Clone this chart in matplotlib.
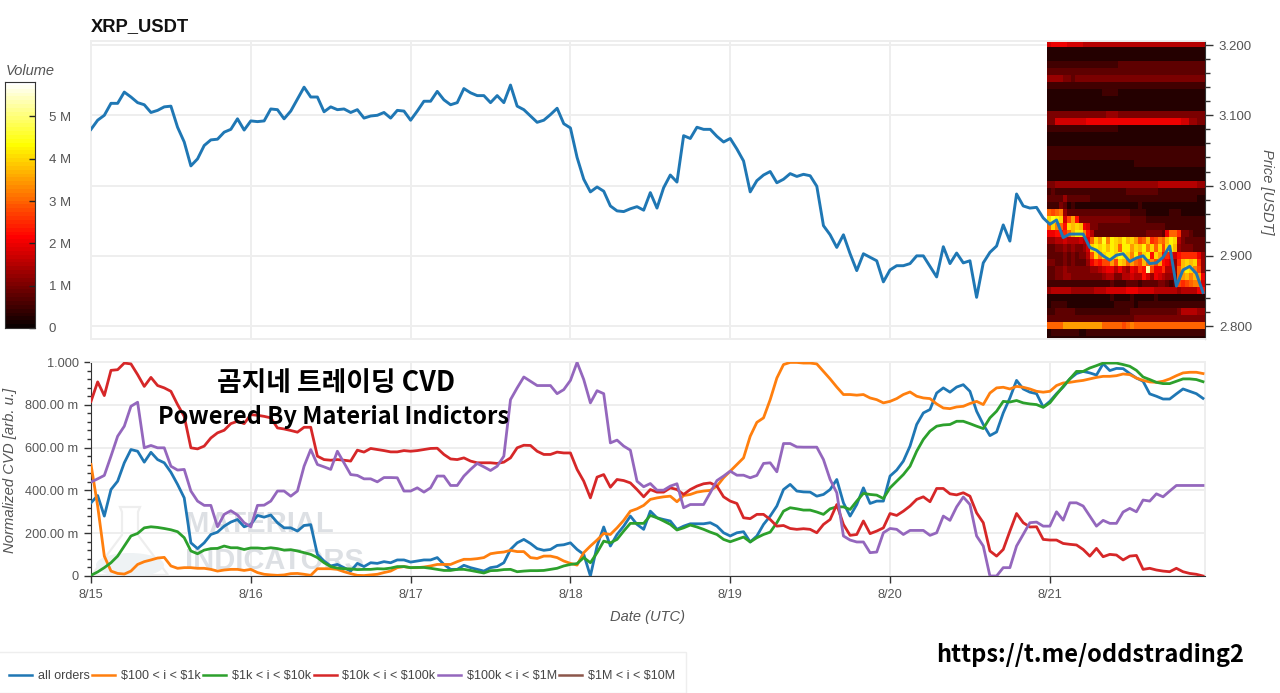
import numpy as np
import matplotlib
matplotlib.use("Agg")
import matplotlib.pyplot as plt
from matplotlib.lines import Line2D
from matplotlib.patches import Polygon, Ellipse, Rectangle
from matplotlib.ticker import FixedLocator, FixedFormatter

plt.rcParams['font.family'] = ['Liberation Sans', 'DejaVu Sans']
plt.rcParams['text.parse_math'] = False

# hourly values, price in USDT/1000
price = [3080,3093,3100,3117,3117,3133,3126,3118,3115,3104,3107,3112,3113,3083,3062,3028,3038,3057,3065,3066,3076,3080,3095,3079,
         3092,3091,3092,3109,3108,3095,3106,3123,3140,3126,3126,3105,3112,3108,3109,3104,3108,3096,3099,3100,3104,3096,3107,3106,
         3093,3106,3120,3120,3134,3122,3115,3118,3138,3132,3128,3128,3118,3128,3118,3143,3113,3108,3099,3090,3093,3101,3110,3088,
         3082,3040,3009,2991,2998,2992,2971,2964,2963,2967,2970,2965,2990,2968,2997,3015,3005,3071,3067,3083,3080,3080,3070,3062,
         3067,3052,3035,2991,3007,3015,3020,3004,3009,3017,3013,3016,3014,2999,2943,2930,2912,2930,2903,2879,2903,2898,2893,2863,
         2880,2886,2886,2889,2900,2900,2885,2870,2913,2889,2904,2890,2893,2841,2890,2905,2914,2944,2921,2988,2971,2968,2969,2954,
         2945,2951,2926,2931,2931,2931,2912,2908,2900,2894,2901,2903,2892,2897,2900,2889,2890,2898,2914,2857,2880,2885,2875,2848]

# normalized CVD in milli units
all_orders = [342,376,280,404,443,529,591,583,532,578,544,529,485,428,365,155,128,155,194,205,233,252,264,230,
              241,283,275,285,249,225,225,210,236,240,101,70,47,54,39,23,59,44,62,59,67,62,75,75,
              65,70,75,75,86,54,31,31,50,39,31,23,39,44,62,124,155,171,152,128,120,124,143,146,
              155,124,101,0,140,229,140,194,233,280,241,218,303,272,264,257,218,233,244,244,244,249,233,202,
              187,202,207,159,187,241,280,327,404,428,397,393,392,373,381,404,451,342,280,334,412,339,350,350,
              467,495,537,607,708,762,778,855,879,859,883,894,863,770,708,656,673,762,832,914,874,859,852,790,
              816,852,883,921,946,956,949,939,992,960,970,969,946,925,910,851,840,827,827,851,874,863,852,830]
orders_100_1k = [521,327,93,23,12,9,23,54,67,75,84,87,47,36,39,39,36,36,31,23,28,31,31,26,
                 31,16,8,5,3,5,11,12,8,3,34,34,34,31,20,11,3,2,5,8,16,23,39,44,
                 39,39,42,47,54,54,54,67,78,78,81,86,104,109,112,120,114,114,86,82,93,93,86,70,
                 59,51,109,140,168,199,194,225,260,303,314,330,358,365,370,373,347,376,381,392,397,400,420,459,
                 490,521,552,653,718,739,824,925,988,998,998,995,995,991,956,921,883,848,848,845,848,832,824,809,
                 816,829,848,860,840,832,829,804,785,782,790,793,806,816,801,855,879,882,874,886,882,874,863,859,
                 863,890,902,905,910,914,921,928,933,933,936,944,941,925,914,907,905,910,921,936,949,952,952,946]
orders_1k_10k = [3,19,39,62,93,140,187,199,225,230,227,222,216,207,179,117,104,121,128,129,140,132,132,124,
                 131,131,128,132,128,121,123,117,109,101,86,62,44,37,34,33,30,31,31,34,33,37,44,44,
                 39,40,40,36,31,26,26,31,31,26,20,14,25,26,30,31,20,23,25,25,26,31,36,47,
                 54,58,86,62,109,163,155,171,210,246,246,246,283,272,257,241,215,225,238,229,218,205,194,171,
                 160,171,182,159,179,194,205,249,303,319,314,308,308,299,288,314,323,323,311,350,386,381,378,362,
                 412,443,474,513,583,638,677,700,706,708,723,723,712,700,689,739,770,816,813,820,809,804,801,788,
                 809,848,886,921,956,956,972,983,995,995,995,988,980,961,930,918,905,899,899,910,921,921,918,908]
orders_10k_100k = [816,907,843,961,964,995,991,941,886,928,890,879,863,801,746,599,594,607,645,669,681,712,723,712,
                   754,751,746,739,692,687,680,672,695,695,560,544,541,544,541,537,588,579,596,591,586,580,580,586,
                   583,586,591,596,597,568,547,544,552,537,529,529,529,526,532,552,599,611,610,583,568,568,579,575,
                   575,498,443,365,462,474,415,451,446,435,404,370,404,392,392,412,404,381,404,420,431,435,420,370,
                   350,339,272,268,288,288,264,233,236,222,218,221,218,202,241,264,334,241,190,194,257,198,210,225,
                   292,283,303,327,358,370,347,409,409,384,379,389,373,295,249,117,93,124,210,292,249,229,230,171,
                   168,168,152,148,145,124,93,129,90,101,98,75,93,96,31,36,28,23,20,36,20,12,8,0]
orders_100k_1m = [439,454,470,560,653,700,793,812,599,610,599,599,513,495,498,397,350,330,330,230,288,305,285,249,
                  230,330,331,350,397,397,373,397,513,591,521,510,498,583,529,474,470,454,454,440,460,460,459,397,
                  397,412,392,412,467,467,423,423,467,498,526,510,493,513,560,824,879,930,910,890,890,890,852,871,
                  914,998,918,809,866,852,622,635,607,588,443,417,432,401,401,420,431,319,334,334,334,389,446,467,
                  490,471,471,459,470,526,529,487,619,619,603,602,602,602,544,451,389,187,168,159,159,109,112,202,
                  222,218,194,213,213,213,190,202,280,260,323,369,334,187,140,0,0,39,39,140,194,249,252,233,
                  233,300,261,342,342,327,280,233,260,246,246,299,316,300,355,350,384,370,397,423,423,423,423,423]
orders_1m_10m = []

series_labels = ["all orders", "$100 < i < $1k", "$1k < i < $10k", "$10k < i < $100k", "$100k < i < $1M", "$1M < i < $10M"]
series_colors = ["#1f77b4", "#ff7f0e", "#2ca02c", "#d62728", "#9467bd", "#8c564b"]

day_labels = ["8/15", "8/16", "8/17", "8/18", "8/19", "8/20", "8/21"]
cvd_ticks = [0, 0.2, 0.4, 0.6, 0.8, 1.0]
cvd_tick_labels = ["0", "200.00 m", "400.00 m", "600.00 m", "800.00 m", "1.000"]
price_ticks = [2.8, 2.9, 3.0, 3.1, 3.2]
volume_ticks = [0, 1, 2, 3, 4, 5]
volume_tick_labels = ["0", "1 M", "2 M", "3 M", "4 M", "5 M"]

# volume profile, one row per price level, top row first. one char = 0.25 M (base 36)
heat_rows = [
    "7888877776 6666666666 6666666666 6666666666",
    "1111111111 1111111111 1111111111 1111111111",
    "1111111111 1111111111 1111111111 1111111111",
    "2222222222 2222222233 3333333333 3333333333",
    "3333333333 3333333333 3333333333 3333333333",
    "5555443444 4444444444 4444444444 4444444444",
    "2222222222 2222222222 2222222222 2222222222",
    "1111111111 1111222211 1111111111 1111111111",
    "1111111111 1111111111 1111111111 1111111111",
    "1111111111 1111111111 1111111111 1111111111",
    "4444444444 4444455544 4444444444 4444444444",
    "4477777777 8888888888 8888888888 8888775544",
    "2222222222 2222222211 1111111111 1111111111",
    "1111111111 1111111111 1111111111 1111111111",
    "1111111111 1111111111 1111111111 1111111111",
    "2222222222 2222222222 2222222222 2222222222",
    "2222222222 2222222222 2222222222 2222222222",
    "1111111111 1111111111 1122222222 2222222222",
    "1111111111 1111111111 1111111111 1111111111",
    "1111111111 1111111111 1111111111 1111111111",
    "4455555555 5555555555 5555555566 6666666655",
    "2322222222 2222222222 3333333322 2222222222",
    "3333533333 3222222222 2222222222 2222222211",
    "2224312111 1111111111 1112111111 1111111111",
    "cbcd533333 3333333333 3222211111 1222111111",
    "gihg7be944 4444444444 4333322222 2222222222",
    "cgdc9gfgf8 7443333333 3333333333 2222222222",
    "8899acfhhd 9633333333 3333344443 8cca443222",
    "5566766676 8cgeidhgfh fgebcfabdc fhg6433333",
    "3344545445 7ghghfhgch hegfhdgcgb ghf5444333",
    "3333434344 6bgdghhgih gdhcgh9ge9 a979aaaa85",
    "4433434333 58a9bbebgf cecbfcdbe9 875afgfga5",
    "3344544444 4556788686 587a9lb88a 665cfhgdb5",
    "3344554444 4444566446 6766975876 554cefdfe8",
    "2222222222 2222223222 3332333344 323babcdd7",
    "5666665555 5566677777 8887777666 6665666689",
    "1111111111 1111112111 1211111211 1111111111",
    "1222211111 1111111222 2212222222 2222222222",
    "2233333222 2222222222 2333333333 3334666655",
    "3333333333 3333333333 3344444444 4444444444",
    "cccceeeeee eeeecccccb cdcccccccc cccccccccc",
    "1222222211 2222222222 2222222222 2222222222",
    "1111111111 1111111111 1111111111 1111111111",
]

W, H = 1280, 693
GRAY = "#555555"
GRID = "#eeeeee"


def px_axes(fig, x0, y0, x1, y1):
    return fig.add_axes([x0 / W, 1 - y1 / H, (x1 - x0) / W, (y1 - y0) / H])


fig = plt.figure(figsize=(W / 100, H / 100), dpi=100)
hours = np.arange(len(price))
day_pos = np.arange(len(day_labels)) * 24
x_end = 167.3

# top panel
ax1 = px_axes(fig, 91, 41, 1205, 339.5)
heat = np.array([[int(c, 36) * 0.25 for c in row.replace(" ", "")] for row in heat_rows])
ax1.imshow(heat, cmap="hot", vmin=0, vmax=5.82, aspect="auto", interpolation="nearest",
           extent=[143.6, x_end, 2.775, 3.205], zorder=2)
ax1.plot(hours, np.array(price) / 1000, color=series_colors[0], lw=2.1, zorder=3, solid_joinstyle="round")
ax1.set_xlim(0, x_end)
ax1.set_ylim(2.781, 3.2057)
ax1.set_xticks(day_pos)
ax1.tick_params(axis="x", length=0, labelbottom=False)
ax1.yaxis.tick_right()
ax1.yaxis.set_label_position("right")
ax1.set_yticks(price_ticks)
ax1.set_yticklabels(["%.3f" % p for p in price_ticks])
ax1.yaxis.set_minor_locator(FixedLocator(np.arange(2.78, 3.2, 0.02)))
ax1.tick_params(axis="y", which="major", length=6, width=1, color="#333333", labelcolor=GRAY, labelsize=9.5, pad=4)
ax1.tick_params(axis="y", which="minor", length=3.5, width=1, color="#333333")
ax1.grid(True, color=GRID, lw=1.4, zorder=0)
ax1.set_axisbelow(True)
for s in ["top", "left", "bottom"]:
    ax1.spines[s].set_color(GRID)
    ax1.spines[s].set_linewidth(1.4)
ax1.spines["right"].set_color("#333333")
fig.text(1267 / W, 1 - 192 / H, "Price [USDT]", rotation=270, style="italic", color=GRAY,
         fontsize=10.5, ha="center", va="center")
fig.text(91 / W, 1 - 26.5 / H, "XRP_USDT", fontweight="bold", fontsize=13.2, color="#111111", ha="left", va="center")

# colour bar
cax = px_axes(fig, 5, 81.7, 35, 328)
cax.imshow(np.linspace(5.82, 0, 64).reshape(-1, 1), cmap="hot", vmin=0, vmax=5.82, aspect="auto",
           extent=[0, 1, 0, 5.82])
cax.set_xticks([])
cax.yaxis.tick_right()
cax.set_yticks(volume_ticks)
cax.set_yticklabels(volume_tick_labels, ha="left")
cax.tick_params(axis="y", direction="in", length=4, width=1, color="#222222", labelcolor=GRAY, labelsize=9.5, pad=10)
for s in cax.spines.values():
    s.set_color("#333333")
fig.text(6 / W, 1 - 71 / H, "Volume", style="italic", color=GRAY, fontsize=10.5, ha="left", va="center")

# bottom panel
ax2 = px_axes(fig, 91, 362, 1205, 576)
all_series = [all_orders, orders_100_1k, orders_1k_10k, orders_10k_100k, orders_100k_1m, orders_1m_10m]
for vals, label, col in zip(all_series, series_labels, series_colors):
    ax2.plot(hours[:len(vals)], np.array(vals, dtype=float) / 1000, color=col, lw=2.0, label=label,
             zorder=3, solid_joinstyle="round")
ax2.set_xlim(0, x_end)
ax2.set_ylim(0, 1.0)
ax2.set_xticks(day_pos)
ax2.set_xticklabels(day_labels)
ax2.yaxis.set_major_locator(FixedLocator(cvd_ticks))
ax2.yaxis.set_major_formatter(FixedFormatter(cvd_tick_labels))
ax2.yaxis.set_minor_locator(FixedLocator(np.arange(0, 1.0, 0.04)))
ax2.tick_params(axis="both", which="major", length=5, width=1, color="#333333", labelcolor=GRAY)
ax2.tick_params(axis="x", which="major", pad=4, labelsize=9.2)
ax2.tick_params(axis="y", which="major", pad=4, labelsize=9.2)
ax2.tick_params(axis="y", which="minor", length=3, width=1, color="#333333")
ax2.grid(True, color=GRID, lw=1.4, zorder=0)
ax2.set_axisbelow(True)
for s in ["top", "right"]:
    ax2.spines[s].set_color(GRID)
    ax2.spines[s].set_linewidth(1.4)
for s in ["left", "bottom"]:
    ax2.spines[s].set_color("#333333")
fig.text(648 / W, 1 - 617 / H, "Date (UTC)", style="italic", color=GRAY, fontsize=10.5, ha="center", va="center")
fig.text(10.5 / W, 1 - 470 / H, "Normalized CVD [arb. u.]", rotation=90, style="italic", color=GRAY,
         fontsize=10.7, ha="center", va="center")

# watermark, behind the lines
wm = "#dde0e4"
flask = [(120, 507), (140, 507), (138, 512), (138, 535), (168, 575), (92, 575), (122, 535), (122, 512)]
ax2.add_patch(Polygon([(x / W, 1 - y / H) for x, y in flask], closed=True, fill=False, edgecolor="#eeeeee",
                      lw=1.6, transform=fig.transFigure, zorder=1))
ax2.add_patch(Ellipse((130 / W, 1 - 565 / H), 68 / W, 24 / H, facecolor="#eef2f4", edgecolor="none",
                      transform=fig.transFigure, zorder=1))
for txt, y in [("MATERIAL", 524), ("INDICATORS", 561)]:
    ax2.text(185 / W, 1 - y / H, txt, fontweight="bold", fontsize=21, color=wm, ha="left", va="center",
             transform=fig.transFigure, zorder=1)

# added captions
cjk = ["Noto Sans CJK KR", "DejaVu Sans"]
fig.text(336 / W, 1 - 383 / H, "곰지네 트레이딩 CVD", family=cjk, fontweight="bold", fontsize=19.3, color="black",
         ha="center", va="center", zorder=10)
fig.text(333 / W, 1 - 417 / H, "Powered By Material Indictors", family=cjk, fontweight="bold", fontsize=17,
         color="black", ha="center", va="center", zorder=10)
fig.text(1090 / W, 1 - 655 / H, "https://t.me/oddstrading2", family=cjk, fontweight="bold", fontsize=17,
         color="black", ha="center", va="center", zorder=10)

# legend box
fig.add_artist(Rectangle((-2 / W, 0), 688 / W, 41 / H, facecolor="white", edgecolor="#eeeeee", lw=1,
                         transform=fig.transFigure, zorder=0))
leg_handles = [Line2D([], [], color=c, lw=1.8) for c in series_colors]
fig.legend(leg_handles, series_labels, ncol=6, loc="center left", bbox_to_anchor=(9 / W, 1 - 676 / H),
           frameon=False, fontsize=9, labelcolor="#444444", handlelength=1.85, handletextpad=0.45,
           columnspacing=0.2, borderpad=0, borderaxespad=0)

fig.savefig("out.png", dpi=100)
